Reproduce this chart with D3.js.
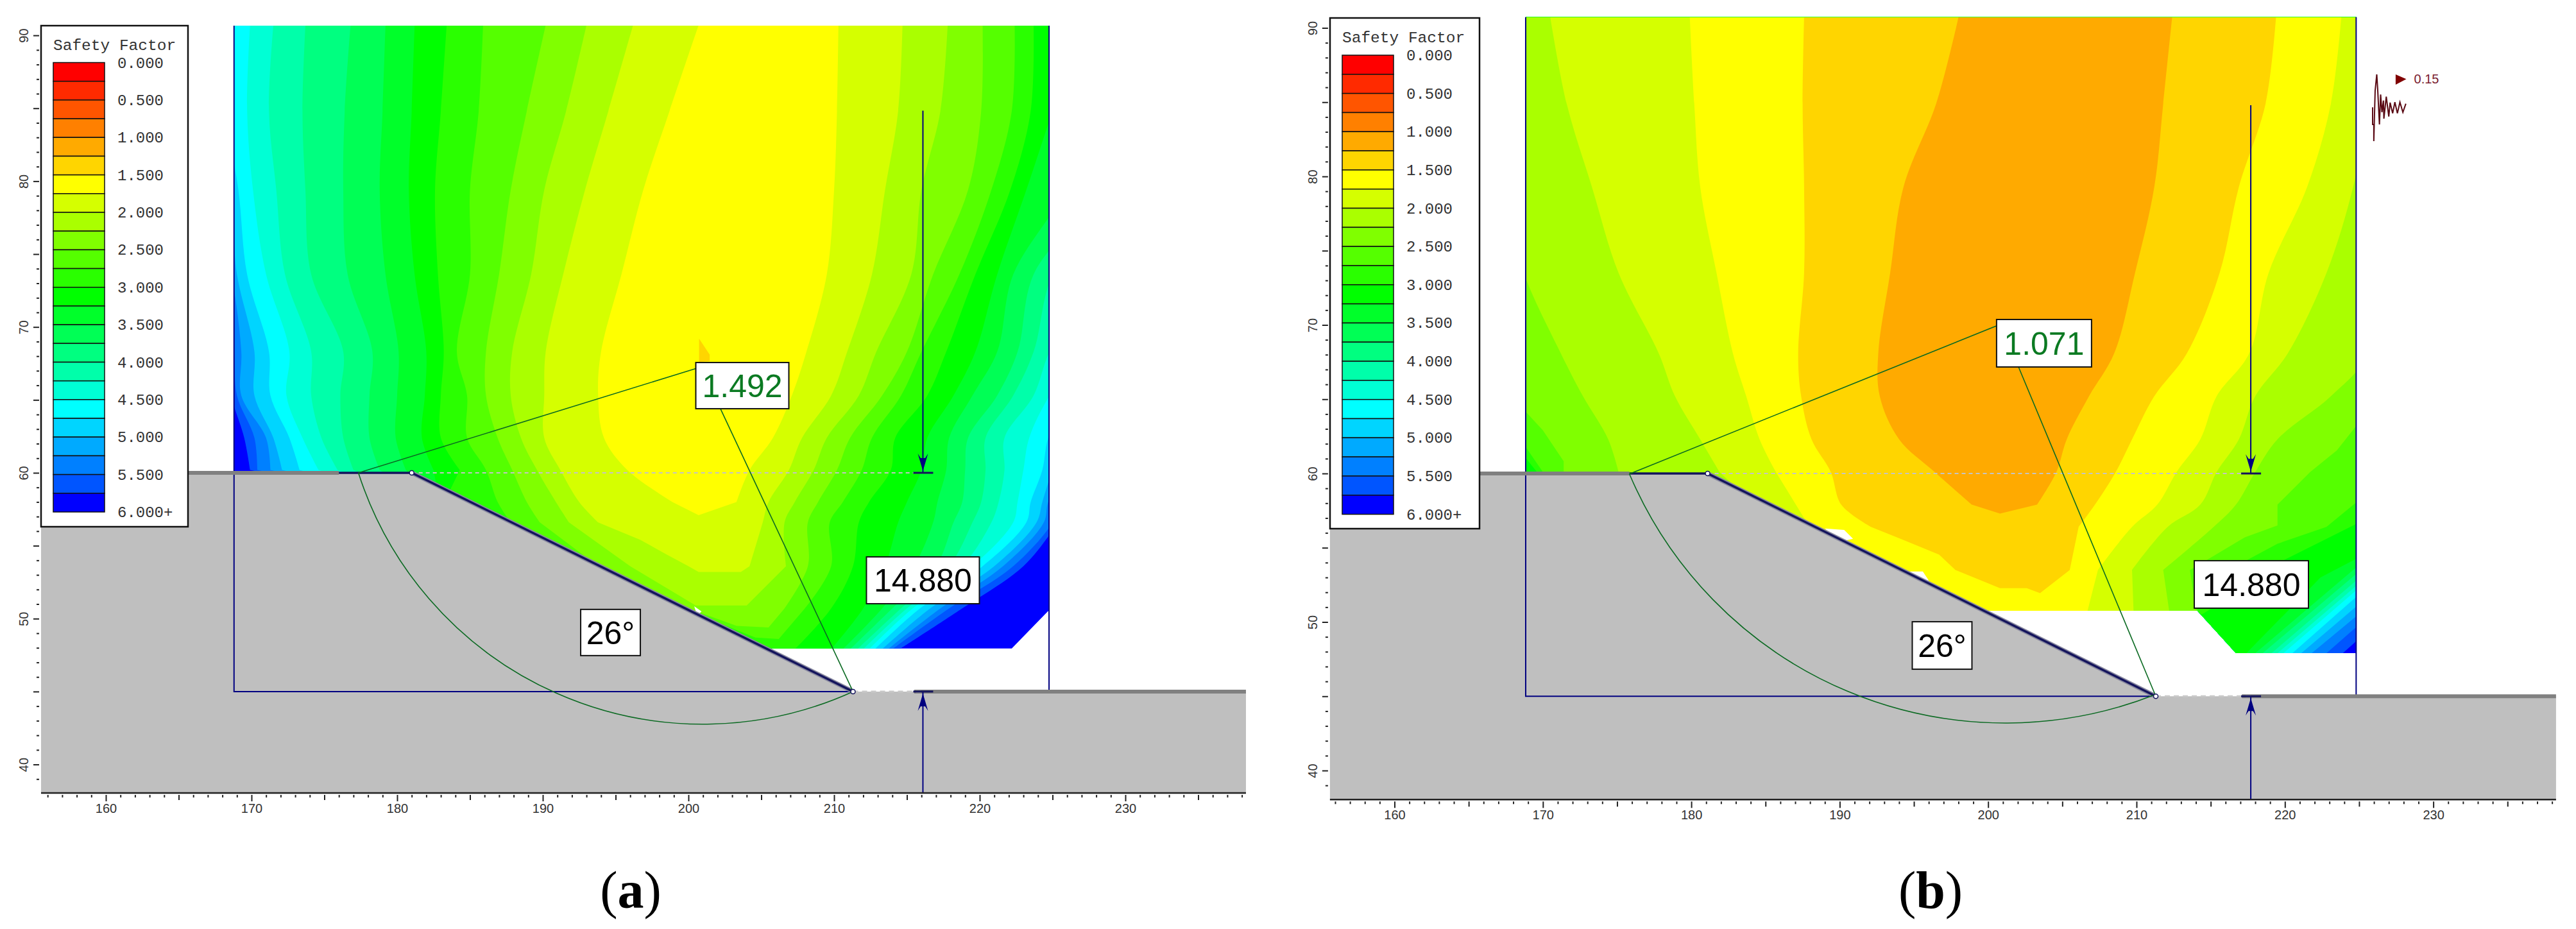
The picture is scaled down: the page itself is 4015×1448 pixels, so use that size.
<!DOCTYPE html>
<html>
<head>
<meta charset="utf-8">
<script src="https://cdn.jsdelivr.net/npm/d3@7"></script>
<style>
body { margin: 0; background: #fff; }
svg { display: block; }
</style>
</head>
<body>
<svg id="chart" width="4015" height="1448"></svg>
<script>
// legend
var legendColors = ['#ff0000','#ff2a00','#ff5500','#ff8000','#ffaa00','#ffd500','#ffff00','#d5ff00','#aaff00','#80ff00','#55ff00','#2aff00',
    '#00ff00','#00ff2a','#00ff55','#00ff80','#00ffaa','#00ffd5','#00ffff','#00d5ff','#00aaff','#0080ff','#0055ff','#0000ff'];
var legendLabels = ['0.000','0.500','1.000','1.500','2.000','2.500','3.000','3.500','4.000','4.500','5.000','5.500','6.000+'];
var legendValues = [0,0.5,1,1.5,2,2.5,3,3.5,4,4.5,5,5.5,6];

// slope geometry, in model units
var groundA = [[155.55,60],[181,60],[211.3,45],[238.28,45],[238.28,38.05],[155.55,38.05]];
var groundB = [[155.65,60],[181.1,60],[211.3,45],[238.27,45],[238.27,38.05],[155.65,38.05]];

// panel a contours: x of each band edge at the rows below, first band index 6 (yellow)
var rowsA = [90.7,84.8,79.4,73.6,68.3,65.3,62.4,60.2,58,56.6,53.6,50.7,47.9];
var fieldA = [[168.8,90.66],[224.76,90.66],[224.76,50.58],[222.2,47.95],[205.6,47.95],[181,60],[168.8,60]];
var openTailA = [[183,57.5],[195,46.5]];
var leftA = [
    [200.7,198.7,196.9,195.4,194,193.8,194.2,195.8,198.9],
    [196.2,194.5,192.9,191.4,190.2,190.1,190.1,191.2,192.5,193.8],
    [193,191.6,190.1,189.2,187.9,187.8,188.5,189.6,190.9,191.8],
    [190.2,188.9,187.8,187,186.1,186.1,186.9,187.9,188.9,189.8],
    [185.9,185.6,185,185,184.1,184.8,184.8,186.1,186.9,187.8],
    [183.4,183,182.6,182.8,183.2,183,183,184.3],
    [181.2,181,180.8,181.2,182,181.9,181.7,182.5],
    [179.2,179,178.8,179.2,180.1,180,179.9,180.6],
    [176.8,176.4,176.3,176.6,178.3,178.1,178.1,178.8],
    [173.7,173.5,173.7,174.1,176.3,176.1,176.3,177],
    [171.5,171.2,171.7,172.3,174.1,174.1,174.8,175.9],
    [169.9,169.7,170.1,171,172.6,172.4,173.5,174.6],
    [167.9,168.2,169.1,169.7,171.2,171.3,172.6,173.3],
    [166,166,168.4,169,170.2,170.2,171.5,172.1],
    [165,165,167,168.6,169.3,169.3,171,171.3],
    [164,164,166,168.2,168.8,169,170.2,170.4],
    [163,163,165,167,168.2,168.6,169.5,169.9]
];
var tailA = [
    [[200.7,57.1]],
    [[196.7,55.4],[198.5,54.4],[200,53.6],[200.7,53.2],[203.6,53.2]],
    [[196,53.6],[200.5,50.9],[204,50.9]],
    [[193.8,53.6],[200,50.7],[203.3,49.5],[205.5,49.4]],
    [[193.4,53.6],[199.6,50.7],[204.6,48.7],[206.2,48.6]],
    openTailA,openTailA,openTailA,openTailA,openTailA,openTailA,openTailA,openTailA,openTailA,openTailA,openTailA,openTailA
];
var rightA = [
    [210.3,210.2,210,209.5,208.1,207.1,205.8,204.2,203.3],
    [214.7,214.4,213.5,212.6,210.9,209.8,207.8,206.9,205.5,205.1,204.2],
    [217.8,217.3,216,215.3,212.9,211.7,209.5,208.6,207.3,206.6,206.7],
    [220.2,220.1,219.2,216.8,215,213.3,211.1,210.2,208.9,208.2,208.2,206.6],
    [222.4,222.2,220.8,218.6,216,214.6,212.6,211.9,210.6,209.7,209.8,208],
    [223.7,223.5,222.1,219.7,217.7,216.4,214.2,213.9,212.4,211.7,211.3,209.8,207.3],
    [227,225,223.2,221.2,219.7,218.2,216.4,216,215,214.4,213.5,212,209.8],
    [228,228,225.9,222.3,221.2,219.5,217.9,217.7,217.1,216.8,215.5,213.3,210.6],
    [229,229,228,223.7,222.6,221.2,219.2,219,218.8,218.2,217,214,211.1],
    [230,230,229,225,223.7,222.3,220.4,220.4,220.1,219.5,217.9,214.6,211.6],
    [231,231,230,228,224.8,223.7,221.7,221.7,221.3,220.8,218.8,215,212],
    [232,232,231,229,227,224.8,223.4,223,222.6,222.3,219.5,215.4,212.4],
    [233,233,232,230,228,226,224.7,224.3,223.5,223.2,220.2,215.9,212.8],
    [234,234,233,231,229,227,225.9,225,224.3,223.9,221,216.6,213.3],
    [235,235,234,232,230,228,227,225.9,224.7,224.4,221.6,217.3,213.7],
    [236,236,235,233,231,229,228,227,225.5,225,222.3,217.9,214],
    [237,237,236,234,232,230,229,228,227,225.5,223,218.8,214.5]
];
var notchesA = [[[200.4,50.85],[200.9,50.5],[200.6,50.2]]];
var spotA = [[200.73,69.2],[201.46,68.1],[201.46,67.65],[200.73,67.6]];
// slip circle: entry, lowest point, exit
var slipA = [[177.34,60],[200.5,42.77],[211.3,45]];

// panel b contours, first band index 4 (orange)
var rowsB = [90.7,84.9,79.3,73.5,68.1,65.2,62.3,60.1,57.9,56.4,53.5,50.76];
var fieldB = [[168.84,90.72],[224.8,90.72],[224.8,47.9],[216.7,47.9],[214.1,50.76],[199.7,50.76],[181.1,60],[168.84,60]];
var leftB = [
    [198,196.5,194.3,193.4,192.6,192.7,194,196.4,198.9],
    [187.6,187.5,187.6,187.6,187.2,187.4,188.1,189.4,190.1,192.1],
    [179.9,180.2,180.6,181.7,182.8,183.7,184.6,185.7],
    [170.5,171.6,173.3,175.1,177.8,178.9,180.6,181.9],
    [165,165,167,168.7,171.2,172.7,174.4,175.1],
    [],[],[],[]
];
var tailB = [
    [[200.8,57.3]],
    [[194.2,55.56],[196.7,54.54],[197.8,53.5],[200.8,52.28],[202.6,52.28],[203.5,51.94],[205.5,53.5]],
    [[187.6,57],[197,47],[206,47],[206.7,50.76]],
    [[183.5,58.6],[197,47],[209.5,47],[209.8,50.76]],
    [[176,59.5],[197,47],[212,47],[212.2,50.76]],
    [[160,95],[232,95],[230,68],[226,65],[224.8,63.2],[223.5,61.55],[221.7,60.1],[219.5,57.9],[219.5,56.5],[217.3,55.7],[213.6,53.5],[214,50.76],[213.5,47],[190,47],[176,59],[171.4,60.1],[171.4,60.82],[170,62.9],[168.8,64.2],[165,66]],
    [[160,95],[232,95],[230,68],[226,59.5],[224.8,58.05],[222.8,56.4],[219.5,55.27],[216.2,53.5],[214.1,50.9],[213.5,47],[190,47],[176,59],[170,60.1],[168.8,61.84],[165,64]],
    [[160,95],[232,95],[230,60],[224.8,56.6],[222.4,55.4],[219.8,54.1],[216.2,51.6],[214.3,50.45],[214,47],[190,47],[176,59],[169.6,60.1],[168.8,61.1],[165,62]],
    [[160,95],[232,95],[226,55],[224.8,54.25],[222.4,53],[217.4,47.9],[216.5,46],[160,46]]
];
var rightB = [
    [212.4,211.8,211.2,209.9,208.5,206.8,205.3,204.6,203.3],
    [219.4,218.7,216.9,215.6,213.4,211.2,209.7,208.6,207.2,206.1],
    [223.8,223.1,221.5,218.9,217.6,215.4,214.3,212.7,211.4,209.7,207.4],
    [227,225.7,224.6,222.8,220.2,218,216.9,215.4,214.3,212.1,209.7],
    [230,229,228,227,225.7,223.1,219.5,218,216.7,215.2,211.8],
    [],[],[],[]
];
// blue corner of panel b: where each band edge meets the right side and the bottom
var cornerEdgeB = [53.67,53.23,52.79,52.43,52.13,51.69,51.04,50.38,49.65,48.7];
var cornerBottomB = [218,218.5,219.1,219.5,219.9,220.5,221.1,221.8,222.8,223.9];
var notchesB = [[[189,56.3],[190.3,56.2],[190.9,55.6],[190,55.4]],[[194.7,53.4],[195.6,53.4],[196,52.8],[195.2,52.7]]];
var slipB = [[175.83,59.97],[200.84,43.2],[211.3,45.13]];
var quakeB = [[225.91,84.65],[225.91,83.5],[225.99,83.5],[225.99,82.38],[226.08,85.76],[226.19,86.87],[226.25,85.91],[226.37,83.5],[226.45,85.52],[226.54,84.32],[226.64,85.11],[226.67,83.89],[226.83,85.37],[227,84.03],[227.09,84.97],[227.26,84.25],[227.41,85],[227.58,84.25],[227.75,85],[227.95,84.32],[228.15,84.9]];
var quakeMarkB = [[227.46,86.87],[228.18,86.55],[227.46,86.18]];

var svg = d3.select('#chart');
var arrowHead = [[0,0],[-8,-27],[-3.5,-20],[3.5,-20],[8,-27]];

function pts(xs, rows) {
    return xs.map(function (v, i) { return [v, rows[i]]; });
}

// radius of the circle through three screen points
function circleRadius(a, b, c) {
    var ab = Math.hypot(a[0] - b[0], a[1] - b[1]);
    var bc = Math.hypot(b[0] - c[0], b[1] - c[1]);
    var ca = Math.hypot(c[0] - a[0], c[1] - a[1]);
    var area = Math.abs((b[0] - a[0]) * (c[1] - a[1]) - (c[0] - a[0]) * (b[1] - a[1])) / 2;
    return ab * bc * ca / (4 * area);
}

function drawPanel(p) {
    var g = svg.append('g').attr('id', p.id);
    var x = d3.scaleLinear().domain([160, 230]).range(p.xRange);
    var y = d3.scaleLinear().domain([38, 90]).range(p.yRange);
    var path = d3.line().x(function (d) { return x(d[0]); }).y(function (d) { return y(d[1]); });
    var curved = d3.line().x(function (d) { return x(d[0]); }).y(function (d) { return y(d[1]); }).curve(d3.curveCatmullRom.alpha(0.5));
    var closed = function (d) { return path(d) + 'Z'; };
    var navy = '#000080', green = '#0b6a22';

    // smooth along the rows, straight through the closing points
    var bandPath = function (d) {
        var s = '';
        if (d.left.length) s = curved(d.left);
        if (d.tail.length) {
            s += (s ? 'L' : 'M') + d.tail.map(function (t) { return x(t[0]) + ',' + y(t[1]); }).join('L');
        }
        if (d.right.length) s += curved(d.right).replace(/^M/, s ? 'L' : 'M');
        return s + 'Z';
    };

    g.append('clipPath').attr('id', 'clip-' + p.id).append('path').attr('d', closed(p.field));
    var field = g.append('g').attr('clip-path', 'url(#clip-' + p.id + ')');
    field.selectAll('path').data(p.bands).enter().append('path')
        .attr('d', bandPath)
        .attr('fill', function (d) { return legendColors[d.level]; });

    g.selectAll('path.notch').data(p.notches).enter().append('path').attr('class', 'notch')
        .attr('d', closed).attr('fill', '#fff');

    // ground
    g.append('path').attr('d', closed(p.ground)).attr('fill', '#bfbfbf');

    // search grid frame
    var xl = p.field[0][0], xr = p.field[1][0], yt = p.field[0][1];
    g.append('path').attr('d', path([[xl, yt], [xl, 45], [p.toe[0], 45]])).attr('fill', 'none').attr('stroke', navy).attr('stroke-width', 2);
    g.append('path').attr('d', path([[xr, yt], [xr, 45]])).attr('fill', 'none').attr('stroke', navy).attr('stroke-width', 2);

    // surface
    g.append('path').attr('d', path([[p.ground[0][0], 60], [p.entry, 60]])).attr('stroke', '#808080').attr('stroke-width', 6).attr('fill', 'none');
    g.append('path').attr('d', path([[p.arrowX - 0.6, 45], [p.ground[3][0], 45]])).attr('stroke', '#808080').attr('stroke-width', 6).attr('fill', 'none');
    g.append('path').attr('d', path([p.toe, [p.arrowX, 45]])).attr('stroke', '#c8c8c8').attr('stroke-width', 3).attr('stroke-dasharray', '8 6').attr('fill', 'none');
    g.append('path').attr('d', path([p.crest, [p.arrowX, 60]])).attr('stroke', '#c4c4c4').attr('stroke-width', 2).attr('stroke-dasharray', '6 5').attr('fill', 'none');
    g.append('path').attr('d', path([p.crest, p.toe])).attr('stroke', '#8a8aa0').attr('stroke-width', 7).attr('fill', 'none');
    g.append('path').attr('d', path([p.crest, p.toe])).attr('stroke', '#14145c').attr('stroke-width', 3.5).attr('fill', 'none');
    g.append('path').attr('d', path([[p.entry, 60], p.crest])).attr('stroke', '#14145c').attr('stroke-width', 3.5).attr('fill', 'none');

    // slip surface and leaders
    var s0 = [x(p.slip[0][0]), y(p.slip[0][1])], s1 = [x(p.slip[1][0]), y(p.slip[1][1])], s2 = [x(p.slip[2][0]), y(p.slip[2][1])];
    var r = circleRadius(s0, s1, s2);
    g.append('path').attr('d', 'M' + s0 + 'A' + r + ',' + r + ' 0 0 0 ' + s2)
        .attr('fill', 'none').attr('stroke', green).attr('stroke-width', 1.6);
    g.append('path').attr('d', path([p.slip[0], p.leaderA])).attr('fill', 'none').attr('stroke', green).attr('stroke-width', 1.6);
    g.append('path').attr('d', path([p.leaderB, p.toe])).attr('fill', 'none').attr('stroke', green).attr('stroke-width', 1.6);

    g.selectAll('circle').data([p.crest, p.toe]).enter().append('circle')
        .attr('cx', function (d) { return x(d[0]); }).attr('cy', function (d) { return y(d[1]); })
        .attr('r', 3.5).attr('fill', '#fff').attr('stroke', '#14145c').attr('stroke-width', 1.5);

    // loads
    [[p.arrowTop, 60, 1], [38.05, 45, -1]].forEach(function (a) {
        g.append('line').attr('x1', x(p.arrowX)).attr('x2', x(p.arrowX)).attr('y1', y(a[0])).attr('y2', y(a[1]))
            .attr('stroke', navy).attr('stroke-width', 2);
        g.append('line').attr('x1', x(p.arrowX) - 15).attr('x2', x(p.arrowX) + 16).attr('y1', y(a[1])).attr('y2', y(a[1]))
            .attr('stroke', '#14145c').attr('stroke-width', 3);
        g.append('path').attr('d', d3.line()(arrowHead) + 'Z')
            .attr('transform', 'translate(' + x(p.arrowX) + ',' + (y(a[1]) - a[2] * 3) + ') scale(1,' + a[2] + ')')
            .attr('fill', navy);
    });

    // boxed labels
    var boxes = g.selectAll('g.box').data(p.boxes).enter().append('g').attr('class', 'box')
        .attr('transform', function (d) { return 'translate(' + x(d.x) + ',' + y(d.y) + ')'; });
    boxes.append('rect')
        .attr('x', function (d) { return -d.w / 2; }).attr('y', function (d) { return -d.h / 2; })
        .attr('width', function (d) { return d.w; }).attr('height', function (d) { return d.h; })
        .attr('fill', '#fff').attr('stroke', '#111').attr('stroke-width', 2);
    boxes.append('text').text(function (d) { return d.text; })
        .attr('text-anchor', 'middle').attr('y', 18)
        .attr('font-family', 'Liberation Sans').attr('font-size', 50)
        .attr('fill', function (d) { return d.color; });

    // axes
    var axisX = d3.axisBottom(x).tickValues(d3.range(156, 239)).tickFormat(function (d) { return d % 10 ? '' : d; });
    var ax = g.append('g').attr('transform', 'translate(0,' + (y(38) + 2) + ')').call(axisX);
    ax.select('.domain').remove();
    ax.selectAll('line').attr('stroke', '#222').attr('stroke-width', 2)
        .attr('y1', 0)
        .attr('y2', function (d) { return d % 10 == 0 ? 10 : (d % 5 == 0 ? 8 : 4); });
    ax.selectAll('text').attr('font-family', 'Liberation Sans').attr('font-size', 20).attr('fill', '#333').attr('y', 14);
    g.append('line').attr('x1', x(p.ground[0][0])).attr('x2', x(p.ground[3][0])).attr('y1', y(38) - 1).attr('y2', y(38) - 1)
        .attr('stroke', '#222').attr('stroke-width', 2.5);

    var axisY = d3.axisLeft(y).tickValues(d3.range(39, 91)).tickFormat(function (d) { return d % 10 ? '' : d; });
    var ay = g.append('g').attr('transform', 'translate(' + (x(p.ground[0][0]) - 3) + ',0)').call(axisY);
    ay.select('.domain').remove();
    ay.selectAll('line').attr('stroke', '#222').attr('stroke-width', 2)
        .attr('x1', 0)
        .attr('x2', function (d) { return d % 5 == 0 ? -9 : -4; });
    ay.selectAll('text').attr('font-family', 'Liberation Sans').attr('font-size', 20).attr('fill', '#333')
        .attr('text-anchor', 'middle').attr('x', 0).attr('y', 0).attr('dy', 0)
        .attr('transform', 'translate(-17,0) rotate(-90)');

    // legend
    var l = g.append('g');
    l.append('rect').attr('x', p.legend.x).attr('y', p.legend.y).attr('width', p.legend.w).attr('height', p.legend.h)
        .attr('fill', '#fff').attr('stroke', '#111').attr('stroke-width', 2.5);
    l.append('text').text('Safety Factor').attr('x', p.legend.x + 19).attr('y', p.legend.y + 38)
        .attr('font-family', 'Liberation Mono').attr('font-size', 24.5).attr('fill', '#333');
    var v = d3.scaleLinear().domain([0, 6]).range(p.legend.bar);
    var band = d3.scaleBand().domain(d3.range(legendColors.length)).range(p.legend.bar);
    l.selectAll('rect.swatch').data(legendColors).enter().append('rect').attr('class', 'swatch')
        .attr('x', p.legend.x + 19).attr('width', 80)
        .attr('y', function (d, i) { return band(i); }).attr('height', band.bandwidth())
        .attr('fill', function (d) { return d; }).attr('stroke', '#111').attr('stroke-width', 1.5);
    l.selectAll('text.value').data(legendLabels).enter().append('text').attr('class', 'value')
        .text(function (d) { return d; })
        .attr('x', p.legend.x + 119).attr('y', function (d, i) { return v(legendValues[i]) + 8; })
        .attr('font-family', 'Liberation Mono').attr('font-size', 24).attr('fill', '#333');

    // caption
    var cap = g.append('text').attr('x', p.captionX).attr('y', 1415).attr('text-anchor', 'middle')
        .attr('font-family', 'Liberation Serif').attr('font-size', 82).attr('fill', '#000');
    cap.append('tspan').text('(');
    cap.append('tspan').text(p.caption).attr('font-weight', 'bold');
    cap.append('tspan').text(')');

    return {g: g, x: x, y: y, closed: closed, path: path};
}

// bands are drawn from the outside in
var coverAll = [[160,95],[240,95],[240,40],[160,40]];
var bandsA = [{level: 23, left: [], tail: coverAll, right: []}];
for (var i = leftA.length - 1; i >= 0; i--) {
    bandsA.push({level: i + 6, left: pts(leftA[i], rowsA), tail: tailA[i], right: pts(rightA[i], rowsA).reverse()});
}
bandsA.push({level: 5, left: [], tail: spotA, right: []});

var bandsB = [{level: 23, left: [], tail: coverAll, right: []}];
for (var k = cornerEdgeB.length - 1; k >= 0; k--) {
    bandsB.push({level: k + 13, left: [], right: [],
        tail: [[160,95],[226,95],[226,cornerEdgeB[k] + 0.9],[224.8,cornerEdgeB[k]],[cornerBottomB[k],47.9],[cornerBottomB[k] - 0.9,46.9],[160,46]]});
}
for (var j = leftB.length - 1; j >= 0; j--) {
    bandsB.push({level: j + 4, left: pts(leftB[j], rowsB), tail: tailB[j], right: pts(rightB[j], rowsB).reverse()});
}

drawPanel({
    id: 'a', xRange: [165, 1754], yRange: [1237, 55.1], field: fieldA, bands: bandsA, notches: notchesA, ground: groundA,
    crest: [181, 60], toe: [211.3, 45], entry: 176, slip: slipA, leaderA: [200.5, 67.15], leaderB: [202.2, 64.39],
    arrowX: 216.1, arrowTop: 84.83,
    boxes: [
        {text: '1.492', x: 203.7, y: 65.98, w: 145, h: 72, color: '#0b7a22'},
        {text: '14.880', x: 216.1, y: 52.63, w: 176, h: 73, color: '#000'},
        {text: '26°', x: 194.65, y: 49.05, w: 93, h: 72, color: '#000'}
    ],
    legend: {x: 64, y: 40, w: 229, h: 781, bar: [97.5, 798]},
    caption: 'a', captionX: 983
});

var b = drawPanel({
    id: 'b', xRange: [2173.5, 3792.6], yRange: [1247.3, 43.5], field: fieldB, bands: bandsB, notches: notchesB, ground: groundB,
    crest: [181.1, 60], toe: [211.3, 45], entry: 175.83, slip: slipB, leaderA: [200.56, 69.94], leaderB: [202.06, 67.15],
    arrowX: 217.7, arrowTop: 84.8,
    boxes: [
        {text: '1.071', x: 203.77, y: 68.77, w: 148, h: 74, color: '#0b7a22'},
        {text: '14.880', x: 217.74, y: 52.53, w: 178, h: 74, color: '#000'},
        {text: '26°', x: 196.9, y: 48.42, w: 93, h: 74, color: '#000'}
    ],
    legend: {x: 2073, y: 28, w: 233, h: 796, bar: [86, 801.6]},
    caption: 'b', captionX: 3009
});

// seismic load glyph
b.g.append('path').attr('d', b.path(quakeB)).attr('fill', 'none').attr('stroke', '#5a0a14').attr('stroke-width', 2);
b.g.append('path').attr('d', b.closed(quakeMarkB)).attr('fill', '#800000');
b.g.append('text').text('0.15').attr('x', b.x(228.7)).attr('y', b.y(86.26))
    .attr('font-family', 'Liberation Sans').attr('font-size', 20).attr('fill', '#7a2030');
</script>
</body>
</html>
